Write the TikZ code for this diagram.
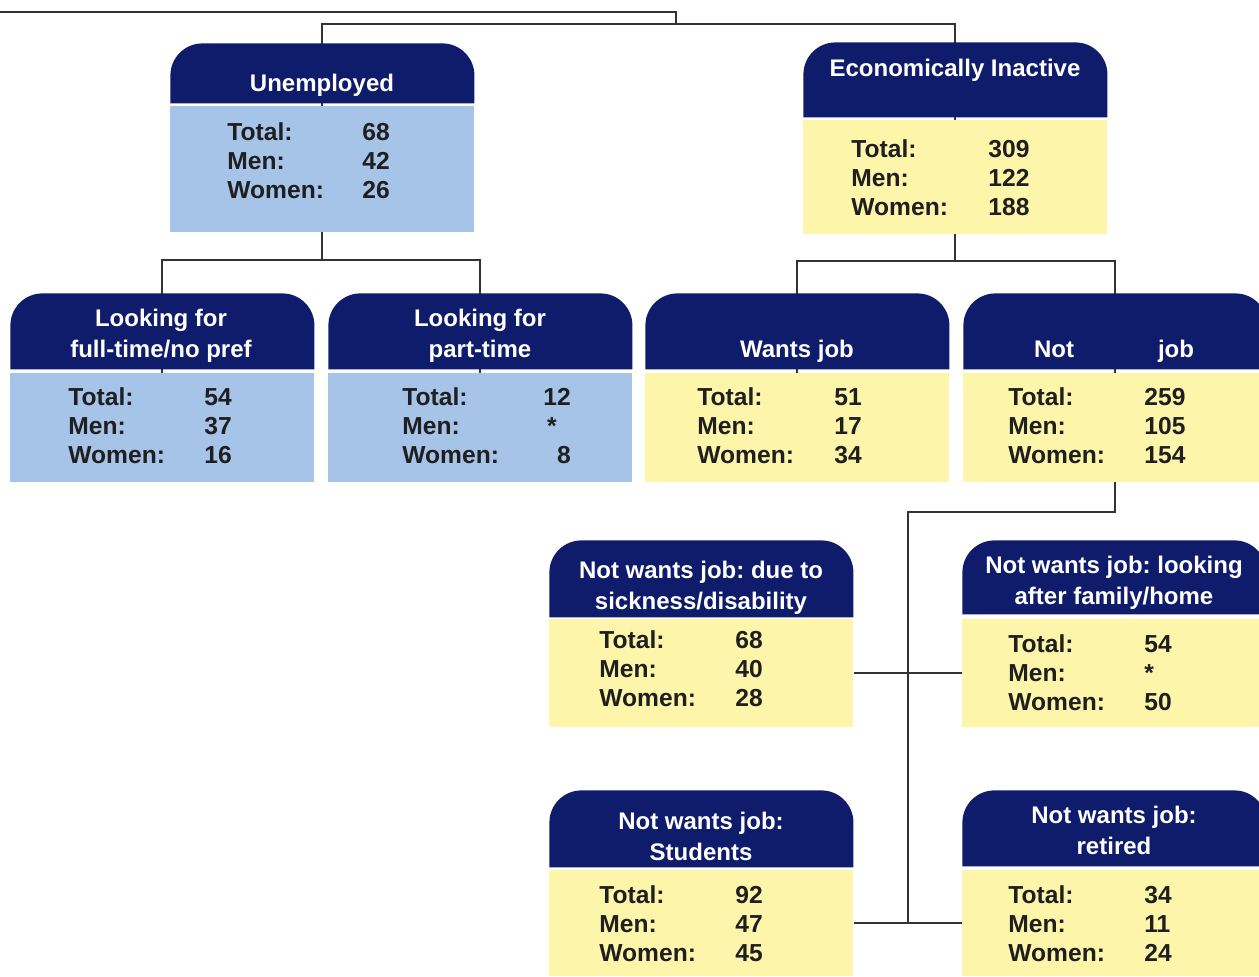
\documentclass[tikz,border=0pt]{standalone}
\usepackage{fontspec}
\setmainfont{Liberation Sans}
\usepackage{xcolor}
\usetikzlibrary{calc}
\definecolor{navy}{HTML}{0F1C6C}
\definecolor{jobblue}{HTML}{A6C3E8}
\definecolor{idleyellow}{HTML}{FDF5AA}
\pgfdeclarelayer{links}
\pgfsetlayers{links,main}

\begin{document}
\begin{tikzpicture}[x=0.5pt, y=-0.5pt,
  hdr/.style={anchor=north west, minimum width=152pt, inner sep=0pt,
    path picture={\fill[navy, rounded corners=16pt]
      (path picture bounding box.south west) -- (path picture bounding box.north west)
      -- (path picture bounding box.north east) [sharp corners]
      -- (path picture bounding box.south east) -- cycle;}},
  body/.style={anchor=north west, minimum width=152pt, inner sep=0pt},
  title/.style={anchor=base, text=white, align=center, inner sep=0pt,
    font=\fontsize{12}{15.5}\selectfont\bfseries\frenchspacing},
  stats/.style={anchor=base west, inner sep=0pt, text=black!88,
    font=\fontsize{12.3}{14.5}\selectfont\bfseries},
  link/.style={line width=1pt, draw=black!80}]
\path[use as bounding box, clip] (0,0) rectangle (1259,976);

% unemployed branch
\node[hdr, minimum height=30pt] (un-h) at (170,43) {};
\node[body, fill=jobblue, minimum height=63pt] (un) at (170,106) {};
\node[title] (un-t) at (322,91) {Unemployed};
\node[stats] (un-s) at (227,140) {\begin{tabular}[t]{@{}p{67.5pt}@{}l@{}}Total: & 68\\ Men: & 42\\ Women: & 26\end{tabular}};

\node[hdr, minimum height=38pt] (lf-h) at (10,293) {};
\node[body, fill=jobblue, minimum height=54.5pt] (lf) at (10,373) {};
\node[title] (lf-t) at (161,357) {Looking for\\full-time/no pref};
\node[stats] (lf-s) at (68,405) {\begin{tabular}[t]{@{}p{68pt}@{}l@{}}Total: & 54\\ Men: & 37\\ Women: & 16\end{tabular}};

\node[hdr, minimum height=38pt] (lp-h) at (328,293) {};
\node[body, fill=jobblue, minimum height=54.5pt] (lp) at (328,373) {};
\node[title] (lp-t) at (480,357) {Looking for\\part-time};
\node[stats] (lp-s) at (402,405) {\begin{tabular}[t]{@{}p{70.5pt}@{}r@{}}Total: & 12\\ Men: & *\hspace*{7pt}\\ Women: & 8\end{tabular}};

% inactive branch
\node[hdr, minimum height=37.5pt] (ei-h) at (803,42) {};
\node[body, fill=idleyellow, minimum height=57pt] (ei) at (803,120) {};
\node[title] (ei-t) at (955,76) {Economically Inactive};
\node[stats] (ei-s) at (851,157) {\begin{tabular}[t]{@{}p{68.5pt}@{}l@{}}Total: & 309\\ Men: & 122\\ Women: & 188\end{tabular}};

\node[hdr, minimum height=38pt] (wj-h) at (645,293) {};
\node[body, fill=idleyellow, minimum height=54.5pt] (wj) at (645,373) {};
\node[title] (wj-t) at (797,357) {Wants job};
\node[stats] (wj-s) at (697,405) {\begin{tabular}[t]{@{}p{68.5pt}@{}l@{}}Total: & 51\\ Men: & 17\\ Women: & 34\end{tabular}};

\node[hdr, minimum height=38pt] (nj-h) at (963,293) {};
\node[body, fill=idleyellow, minimum height=54.5pt] (nj) at (963,373) {};
\node[title] (nj-t) at (1114,357) {Not\hspace{42pt}job};
\node[stats] (nj-s) at (1008,405) {\begin{tabular}[t]{@{}p{68pt}@{}l@{}}Total: & 259\\ Men: & 105\\ Women: & 154\end{tabular}};

% not wanting a job
\node[hdr, minimum height=38.5pt] (sk-h) at (549,540) {};
\node[body, fill=idleyellow, minimum height=54pt] (sk) at (549,619) {};
\node[title] (sk-t) at (701,609) {Not wants job: due to\\sickness/disability};
\node[stats] (sk-s) at (599,648) {\begin{tabular}[t]{@{}p{68pt}@{}l@{}}Total: & 68\\ Men: & 40\\ Women: & 28\end{tabular}};

\node[hdr, minimum height=37pt] (fh-h) at (962,540) {};
\node[body, fill=idleyellow, minimum height=54pt] (fh) at (962,619) {};
\node[title] (fh-t) at (1114,604) {Not wants job: looking\\after family/home};
\node[stats] (fh-s) at (1008,652) {\begin{tabular}[t]{@{}p{68pt}@{}l@{}}Total: & 54\\ Men: & *\\ Women: & 50\end{tabular}};

\node[hdr, minimum height=38.5pt] (st-h) at (549,790) {};
\node[body, fill=idleyellow, minimum height=53pt] (st) at (549,870) {};
\node[title] (st-t) at (701,860) {Not wants job:\\Students};
\node[stats] (st-s) at (599,903) {\begin{tabular}[t]{@{}p{68pt}@{}l@{}}Total: & 92\\ Men: & 47\\ Women: & 45\end{tabular}};

\node[hdr, minimum height=38pt] (rt-h) at (962,790) {};
\node[body, fill=idleyellow, minimum height=53pt] (rt) at (962,870) {};
\node[title] (rt-t) at (1114,854) {Not wants job:\\retired};
\node[stats] (rt-s) at (1008,903) {\begin{tabular}[t]{@{}p{68pt}@{}l@{}}Total: & 34\\ Men: & 11\\ Women: & 24\end{tabular}};

% connectors behind the boxes
\begin{pgfonlayer}{links}
\coordinate (feed) at (0,12);
\coordinate (knee) at (676,24);
\draw[link] (feed) -| (knee);
\draw[link] (un.center) -- (un.center |- knee) -- (ei.center |- knee) -- (ei.center);
\draw[link] (un.center) -- ($(un.south)+(0,27)$) coordinate (un-fork);
\draw[link] (lf.center) |- (un-fork) -| (lp.center);
\draw[link] (ei.center) -- ($(ei.south)+(0,26)$) coordinate (ei-fork);
\draw[link] (wj.center) |- (ei-fork) -| (nj.center);
\draw[link] (nj.center) -- ($(nj.south)+(0,29)$) -| ($(st.east)!.5!(rt.west)$);
\draw[link] (sk.east) -- (fh.west);
\draw[link] (st.east) -- (rt.west);
\end{pgfonlayer}
\end{tikzpicture}
\end{document}
